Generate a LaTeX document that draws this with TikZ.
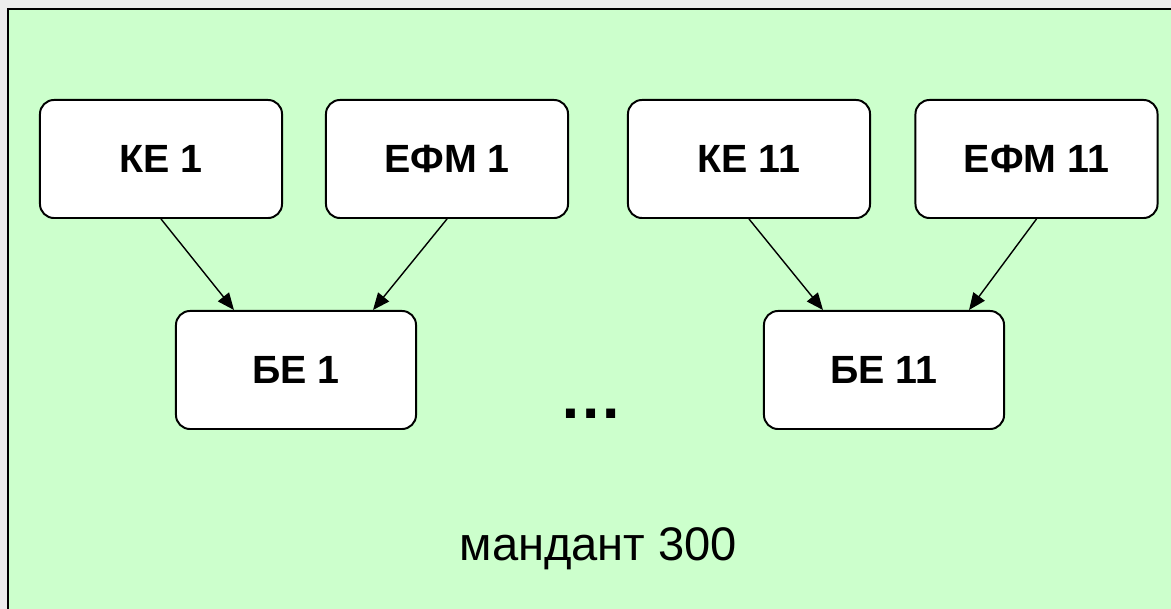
\documentclass[tikz,border=0pt]{standalone}
\usepackage{fontspec}
\setmainfont{Liberation Sans}
\usepackage{tikz}
\usetikzlibrary{calc,arrows.meta}
\definecolor{slidegray}{HTML}{EDEDED}
\definecolor{mintgreen}{HTML}{CCFFCC}

\begin{document}
\begin{tikzpicture}[x=0.025cm,y=-0.025cm,
unit/.style={draw=black,line width=1.4pt,fill=white,rounded corners=0.35cm,
minimum width=6.05cm,minimum height=2.95cm,inner sep=0pt,
font=\fontsize{28}{32}\selectfont\bfseries},
link/.style={-{Triangle[length=12pt,width=10pt]},line width=1pt}]
\useasboundingbox (0,0) rectangle (1171,609);
\clip (0,0) rectangle (1171,609);
\fill[slidegray] (0,0) rectangle (1171,609);
\draw[line width=1.4pt,fill=mintgreen] (8,9) rectangle (1190,630);
\node[unit] (ke1) at (161,159){КЕ 1};
\node[unit] (efm1) at (447,159){ЕФМ 1};
\node[unit] (ke11) at (749,159){КЕ 11};
\node[unit] (efm11) at (1036.5,159){ЕФМ 11};
\node[unit,minimum width=6cm] (be1) at (296,370){БЕ 1};
\node[unit,minimum width=6cm] (be11) at (884,370){БЕ 11};
\node[anchor=base,inner sep=0pt,font=\fontsize{45}{50}\selectfont\bfseries] (dots) at (591,419){…};
\node[anchor=base,inner sep=0pt,font=\fontsize{33.5}{38}\selectfont] (mandant) at (598.5,560){мандант 300};
\draw[link] (ke1.south) -- ($(be1.north west)+(59,0)$);
\draw[link] (efm1.south) -- ($(be1.north east)+(-44,0)$);
\draw[link] (ke11.south) -- ($(be11.north west)+(60,0)$);
\draw[link] (efm11.south) -- ($(be11.north east)+(-36,0)$);
\end{tikzpicture}
\end{document}
